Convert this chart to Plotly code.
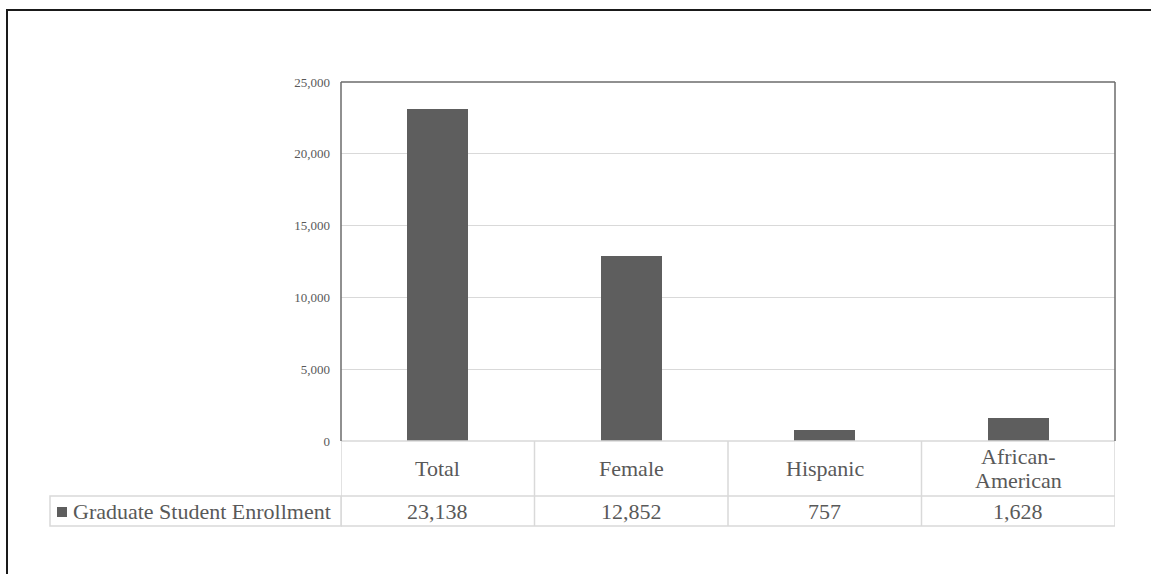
import plotly.graph_objects as go

# Enrollment figures
categories = ["Total", "Female", "Hispanic", "African-<br>American"]
enrollment = [23138, 12852, 757, 1628]
series_name = "Graduate Student Enrollment"
y_ticks = [0, 5000, 10000, 15000, 20000, 25000]

W, H = 1151, 574
PLOT_L, PLOT_R, PLOT_T, PLOT_B = 341, 1115, 82, 441
ROW1_B, ROW2_B = 496, 526
LEGEND_L = 50
LINE_GAP = 24  # px between wrapped category lines

FONT = "Liberation Serif, Times New Roman, serif"
TEXT = "#595959"
BAR = "#5e5e5e"
GRID = "#d9d9d9"
AXIS = "#6b6b6b"

pw = PLOT_R - PLOT_L
ph = PLOT_B - PLOT_T


def px_x(x):
    return (x - PLOT_L) / pw


def px_y(y):
    return (PLOT_B - y) / ph


xs = list(range(len(categories)))

fig = go.Figure(
    go.Bar(
        x=xs,
        y=enrollment,
        marker=dict(color=BAR, line=dict(width=0)),
        width=0.315,
        name=series_name,
        hoverinfo="y",
    )
)

shapes = []
annotations = []

# outer chart frame: top and left edges
shapes.append(dict(type="line", xref="paper", yref="paper",
                   x0=px_x(6), x1=px_x(1400), y0=px_y(10), y1=px_y(10),
                   line=dict(color="#1a1a1a", width=2), layer="above"))
shapes.append(dict(type="line", xref="paper", yref="paper",
                   x0=px_x(7), x1=px_x(7), y0=px_y(9), y1=px_y(800),
                   line=dict(color="#1a1a1a", width=2), layer="above"))

# data table grid
y_r1 = px_y(ROW1_B)
y_r2 = px_y(ROW2_B)
for b in [i - 0.5 for i in range(len(categories) + 1)]:
    shapes.append(dict(type="line", xref="x", yref="paper", x0=b, x1=b,
                       y0=y_r2, y1=0, line=dict(color=GRID, width=1.5)))
for yy in [0, y_r1, y_r2]:
    shapes.append(dict(type="line", xref="paper", yref="paper",
                       x0=0, x1=1, y0=yy, y1=yy, line=dict(color=GRID, width=1.5)))
# legend cell
shapes.append(dict(type="rect", xref="paper", yref="paper",
                   x0=px_x(LEGEND_L), x1=0, y0=y_r2, y1=y_r1,
                   line=dict(color=GRID, width=1.5)))
# legend key
shapes.append(dict(type="rect", xref="paper", yref="paper",
                   x0=px_x(57), x1=px_x(67), y0=px_y(517), y1=px_y(507),
                   fillcolor=BAR, line=dict(width=0)))
annotations.append(dict(xref="paper", yref="paper", x=px_x(71), y=(y_r1 + y_r2) / 2,
                        text=series_name, showarrow=False, xanchor="left",
                        yanchor="middle", font=dict(family=FONT, size=22, color=TEXT)))

# plot area border (left, top, right)
for (x0, y0, x1, y1) in [(0, 0, 0, 1), (0, 1, 1, 1), (1, 0, 1, 1)]:
    shapes.append(dict(type="line", xref="paper", yref="paper",
                       x0=x0, y0=y0, x1=x1, y1=y1,
                       line=dict(color=AXIS, width=1.5), layer="above"))

# category and value rows
row1_mid = (PLOT_B + ROW1_B) / 2
for i, (cat, val) in enumerate(zip(categories, enrollment)):
    lines = cat.split("<br>")
    n = len(lines)
    for k, ln in enumerate(lines):
        py = row1_mid + (k - (n - 1) / 2) * LINE_GAP
        annotations.append(dict(xref="x", yref="paper", x=i, y=px_y(py),
                                text=ln, showarrow=False, xanchor="center",
                                yanchor="middle",
                                font=dict(family=FONT, size=22, color=TEXT)))
    annotations.append(dict(xref="x", yref="paper", x=i, y=(y_r1 + y_r2) / 2,
                            text=f"{val:,}", showarrow=False, xanchor="center",
                            yanchor="middle",
                            font=dict(family=FONT, size=22, color=TEXT)))

fig.update_layout(
    width=W, height=H,
    margin=dict(l=PLOT_L, r=W - PLOT_R, t=PLOT_T, b=H - PLOT_B, pad=0),
    paper_bgcolor="white", plot_bgcolor="white",
    showlegend=False,
    bargap=0,
    shapes=shapes,
    annotations=annotations,
    xaxis=dict(range=[-0.5, len(categories) - 0.5], showticklabels=False,
               showgrid=False, zeroline=False, showline=False, fixedrange=True),
    yaxis=dict(range=[0, 25000], tickvals=y_ticks, tickformat=",",
               showgrid=True, gridcolor=GRID, gridwidth=1,
               zeroline=False, showline=False, ticks="",
               ticklabelstandoff=10,
               tickfont=dict(family=FONT, size=13, color=TEXT), fixedrange=True),
)

fig.write_html("out.html")
